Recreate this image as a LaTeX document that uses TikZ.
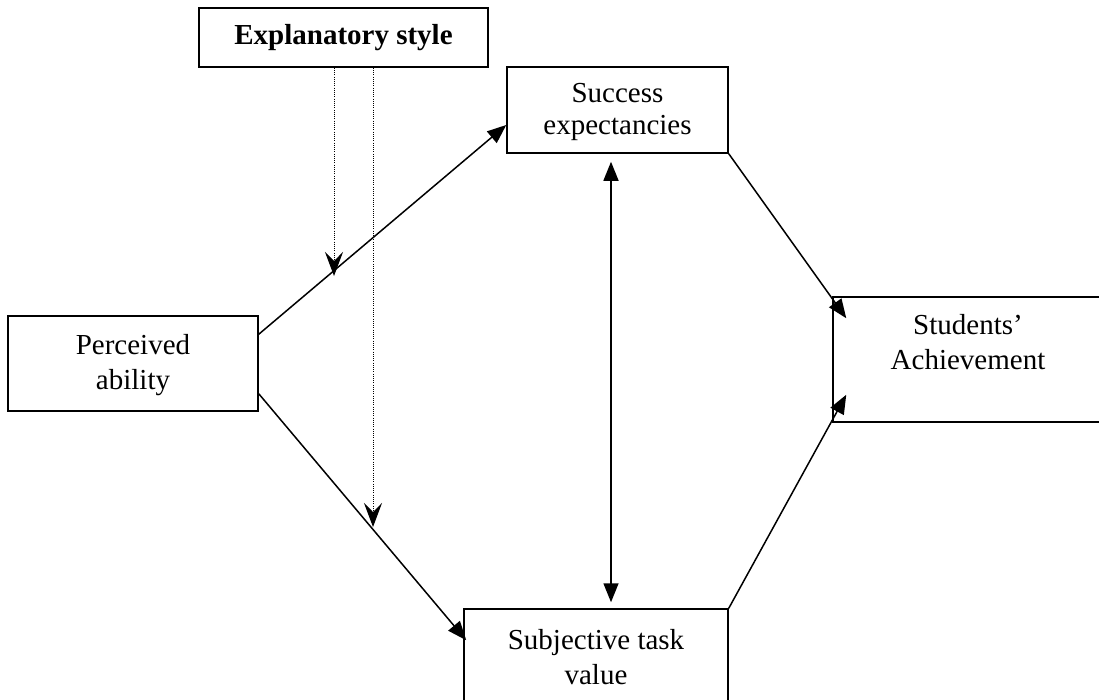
\documentclass[tikz,border=0pt]{standalone}
\usepackage{fontspec}
\setmainfont{Liberation Serif}
\usetikzlibrary{arrows.meta}
\begin{document}
\begin{tikzpicture}[x=1pt,y=-1pt,
  box/.style={draw,line width=1.5pt,inner sep=0pt},
  arr/.style={line width=1.5pt,-{Triangle[length=19pt,width=15pt]}},
  biarr/.style={line width=1.5pt,{Triangle[length=19pt,width=15pt]}-{Triangle[length=19pt,width=15pt]}},
  dotarr/.style={line width=1pt,dash pattern=on 1pt off 1.2pt,
    -{Stealth[length=24pt,width=18pt,inset=9pt]}},
  lbl/.style={align=center,inner sep=0pt,font=\fontsize{29}{35}\selectfont}]
\useasboundingbox (0,0) rectangle (1099,699);
\clip (0,0) rectangle (1099,699);
% boxes
\node[box,minimum width=289pt,minimum height=59pt,font=\fontsize{29}{34}\selectfont\bfseries] (es) at (343.5,37.5) {Explanatory style};
\node[box,minimum width=250pt,minimum height=95pt] (pa) at (133,363.5) {};
\node[box,minimum width=221pt,minimum height=86pt] (se) at (617.5,110) {};
\node[box,minimum width=264pt,minimum height=101pt] (st) at (596,659.5) {};
\node[box,minimum width=270pt,minimum height=125pt] (sa) at (968,359.5) {};
% texts
\node[lbl] (patext) at (133,365) {Perceived\\ability};
\node[lbl,font=\fontsize{29}{32}\selectfont] (setext) at (617.5,112) {Success\\expectancies};
\node[lbl] (sttext) at (596,657) {Subjective task\\value};
\node[lbl] (satext) at (968,342) {Students’\\Achievement};
% helper coordinates
\coordinate (d1) at (334,276);
\coordinate (d2) at (373,527);
\coordinate (vx) at (611,0);
% connectors
\draw[arr] ([yshift=-19pt]pa.north east) -- ([yshift=-15pt]se.west);
\draw[arr] ([yshift=18pt]pa.south east) -- ([yshift=-32pt,xshift=3pt]st.north west);
\draw[arr] (se.south east) -- ([xshift=14pt,yshift=-22pt]sa.north west);
\draw[arr] (st.north east) -- ([xshift=14pt,yshift=28pt]sa.south west);
\draw[biarr,shorten <=8pt,shorten >=6pt] (se.south -| vx) -- (st.north -| vx);
\draw[dotarr] (es.south -| d1) -- (d1);
\draw[dotarr] (es.south -| d2) -- (d2);
\end{tikzpicture}
\end{document}
